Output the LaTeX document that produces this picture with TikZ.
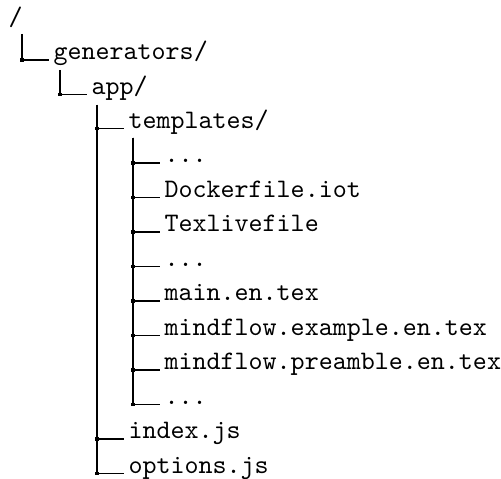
\documentclass[tikz,border=0pt]{standalone}
\usepackage{tikz}

\begin{document}
\begin{tikzpicture}
                [x=0.3745pt,y=-0.3745pt,
                file/.style={anchor=base west,inner xsep=1.7pt,inner ysep=0pt,font=\ttfamily},
                dot/.style={rectangle,fill=black,minimum size=1.2pt,inner sep=0pt},
                branch/.style={draw,line width=0.5pt,to path={|- (\tikztotarget) \tikztonodes}}]
                \useasboundingbox (0,0) rectangle (501,479);
                \node[file,inner xsep=0pt] (root) at (8,25.6) {/};
                \node[file] (gen) at (48.5,60) {generators/};
                \node[file] (app) at (86.5,94.5) {app/};
                \node[file] (tpl) at (123.5,128.5) {templates/};
                \node[file] (c1) at (159.5,163) {...};
                \node[file] (c2) at (159.5,197.5) {Dockerfile.iot};
                \node[file] (c3) at (159.5,232) {Texlivefile};
                \node[file] (c4) at (159.5,266.5) {...};
                \node[file] (c5) at (159.5,301) {main.en.tex};
                \node[file] (c6) at (159.5,335.5) {mindflow.example.en.tex};
                \node[file] (c7) at (159.5,370) {mindflow.preamble.en.tex};
                \node[file] (c8) at (159.5,404.5) {...};
                \node[file] (idx) at (123.5,439) {index.js};
                \node[file] (opt) at (123.5,473.5) {options.js};
                % tops of the vertical lines
                \coordinate (t0) at (22,34);
                \coordinate (t1) at (60,70);
                \coordinate (t2) at (97,105);
                \coordinate (t3) at (133,138);
                \path (t0) edge[branch] node[dot]{} (gen.base west);
                \path (t1) edge[branch] node[dot]{} (app.base west);
                \path (t2) edge[branch] node[dot]{} (tpl.base west)
                           edge[branch] node[dot]{} (idx.base west)
                           edge[branch] node[dot]{} (opt.base west);
                \path (t3) edge[branch] node[dot]{} (c1.base west)
                           edge[branch] node[dot]{} (c2.base west)
                           edge[branch] node[dot]{} (c3.base west)
                           edge[branch] node[dot]{} (c4.base west)
                           edge[branch] node[dot]{} (c5.base west)
                           edge[branch] node[dot]{} (c6.base west)
                           edge[branch] node[dot]{} (c7.base west)
                           edge[branch] node[dot]{} (c8.base west);
\end{tikzpicture}
\end{document}
